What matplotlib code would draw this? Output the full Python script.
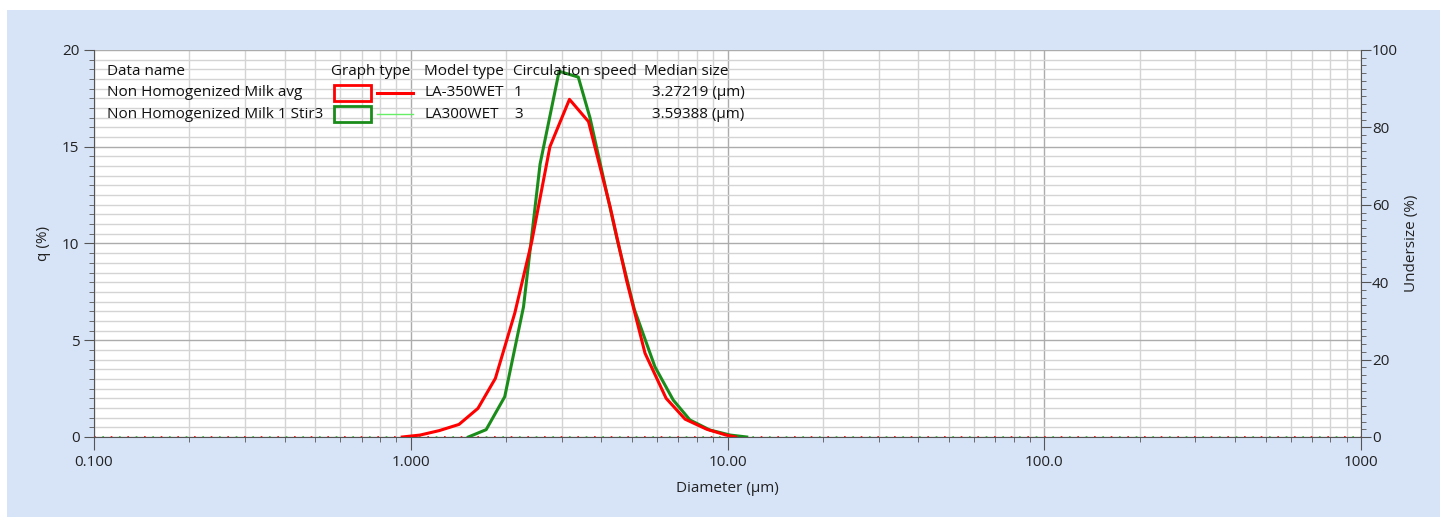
import matplotlib
matplotlib.use('Agg')
import matplotlib.pyplot as plt
import numpy as np
from matplotlib.patches import Rectangle
from matplotlib.lines import Line2D
from matplotlib.ticker import MultipleLocator, LogLocator, NullFormatter

plt.rcParams['font.family'] = ['Open Sans', 'DejaVu Sans']

# data
avg_d = [0.94, 1.07, 1.23, 1.42, 1.63, 1.85, 2.13, 2.41, 2.75, 3.17, 3.64,
         4.26, 4.80, 5.49, 6.40, 7.35, 8.6, 9.9, 10.6]
avg_q = [0.0, 0.1, 0.33, 0.65, 1.48, 3.03, 6.4, 10.1, 15.0, 17.45, 16.3,
         11.9, 8.1, 4.33, 2.0, 0.92, 0.4, 0.1, 0.0]
stir_d = [1.52, 1.73, 1.98, 2.27, 2.56, 2.94, 3.38, 3.68, 4.47, 5.08, 5.90,
          6.74, 7.61, 8.8, 10.2, 11.5]
stir_q = [0.0, 0.38, 2.08, 6.73, 14.1, 18.9, 18.6, 16.5, 10.3, 6.6, 3.63,
          1.91, 0.88, 0.36, 0.1, 0.0]

x_ticks = [0.1, 1, 10, 100, 1000]
x_labels = ['0.100', '1.000', '10.00', '100.0', '1000']

headers = ['Data name', 'Graph type', 'Model type', 'Circulation speed', 'Median size']
names = ['Non Homogenized Milk avg', 'Non Homogenized Milk 1 Stir3']
models = ['LA-350WET', 'LA300WET']
speeds = ['1', '3']
medians = ['3.27219 (µm)', '3.59388 (µm)']

W, H = 1440, 517
RED = '#ff0000'
GREEN = '#1a8c1a'
BG = '#d7e4f8'
TXT = '#222222'
FS = 11


def fx(px):
    return px / W


def fy(py):
    return 1 - py / H


fig = plt.figure(figsize=(14.4, 5.17), dpi=100, facecolor='white')
fig.patches.append(Rectangle((fx(7), 0), 1 - fx(7), fy(10), transform=fig.transFigure,
                             facecolor=BG, edgecolor='none', zorder=-10))

ax = fig.add_axes([fx(94), fy(437), fx(1361) - fx(94), fy(50) - fy(437)])
ax.set_xscale('log')
ax.set_xlim(0.1, 1000)
ax.set_ylim(0, 20)

ax.xaxis.set_minor_locator(LogLocator(base=10, subs=np.arange(2, 10)))
ax.xaxis.set_minor_formatter(NullFormatter())
ax.set_xticks(x_ticks)
ax.set_xticklabels(x_labels)
ax.yaxis.set_major_locator(MultipleLocator(5))
ax.yaxis.set_minor_locator(MultipleLocator(0.5))

ax.grid(which='minor', color='#d4d4d4', lw=1.0)
ax.grid(which='major', color='#acacac', lw=1.0)
ax.set_axisbelow(True)
ax.yaxis.get_gridlines()[-1].set_color('#d4d4d4')

for s in ['top', 'right']:
    ax.spines[s].set_visible(False)
for s in ['left', 'bottom']:
    ax.spines[s].set_color('#555555')
ax.tick_params(which='major', direction='out', length=7, color='#555555',
               labelsize=FS, labelcolor=TXT)
ax.tick_params(which='minor', direction='out', length=3.5, color='#555555')
ax.tick_params(axis='x', which='major', length=9, pad=4)

# zero-level dotted traces
ax.plot([0.1, 1000], [0, 0], color=RED, lw=1.2, ls=(0, (1, 9)), zorder=2)
ax.plot([0.1, 1000], [0, 0], color='#33bb33', lw=1.2, ls=(5, (1, 9)), zorder=2)

ax.plot(stir_d, stir_q, color=GREEN, lw=2.2, zorder=3)
ax.plot(avg_d, avg_q, color=RED, lw=2.2, zorder=4)

ax.set_ylabel('q (%)', fontsize=FS, color=TXT, labelpad=8)
ax.set_xlabel('Diameter (µm)', fontsize=FS, color=TXT, labelpad=8)

ax2 = ax.twinx()
ax2.set_ylim(0, 100)
ax2.yaxis.set_major_locator(MultipleLocator(20))
ax2.yaxis.set_minor_locator(MultipleLocator(2))
for s in ['top', 'left', 'bottom']:
    ax2.spines[s].set_visible(False)
ax2.spines['right'].set_color('#555555')
ax2.tick_params(which='major', direction='out', length=7, color='#555555',
                labelsize=FS, labelcolor=TXT, pad=1)
ax2.tick_params(which='minor', direction='out', length=3.5, color='#555555')
ax2.set_ylabel('Undersize (%)', fontsize=FS, color=TXT, labelpad=4)

# legend table
tkw = dict(fontsize=FS, color='#111111', va='center', ha='left',
           transform=fig.transFigure, zorder=10)
col_x = [107, 331, 424, 513, 644]
for cx, h in zip(col_x, headers):
    fig.text(fx(cx), fy(71), h, **tkw)
rows_y = [93, 114]
for i, ry in enumerate(rows_y):
    fig.text(fx(107), fy(ry), names[i], **tkw)
    fig.text(fx(424), fy(ry), models[i], **tkw)
    fig.text(fx(514), fy(ry), speeds[i], **tkw)
    fig.text(fx(652), fy(ry), medians[i], **tkw)

box_cols = [RED, GREEN]
line_cols = [RED, '#66ee66']
line_w = [2.2, 1.0]
for i, ry in enumerate(rows_y):
    fig.patches.append(Rectangle((fx(334), fy(ry + 8)), fx(371) - fx(334), fy(ry - 8) - fy(ry + 8),
                                 transform=fig.transFigure, facecolor='none',
                                 edgecolor=box_cols[i], lw=2.0, zorder=10))
    fig.lines.append(Line2D([fx(377), fx(413)], [fy(ry), fy(ry)], transform=fig.transFigure,
                            color=line_cols[i], lw=line_w[i], zorder=10))

fig.savefig('out.png', dpi=100, facecolor=fig.get_facecolor())
